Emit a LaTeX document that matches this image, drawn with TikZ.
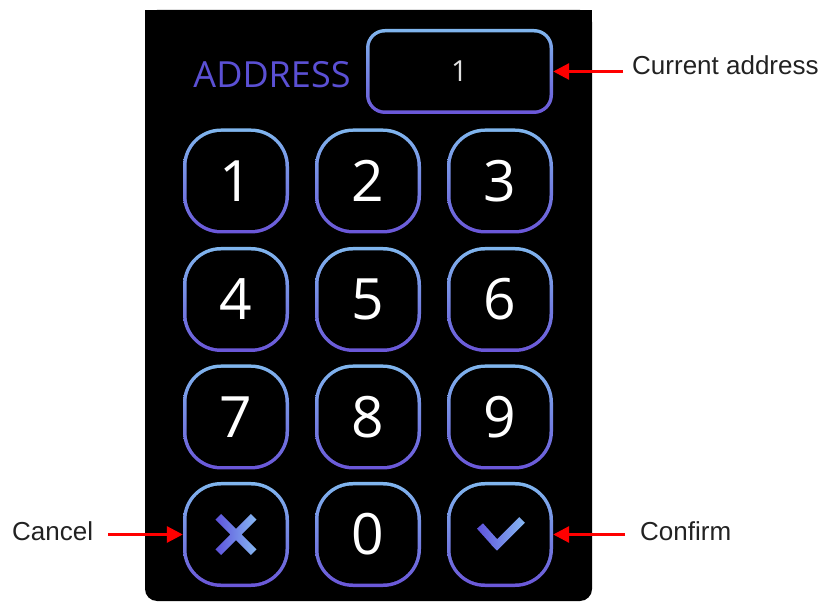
\documentclass[tikz,border=0pt]{standalone}
\usepackage{fontspec}
\setmainfont{Liberation Sans}
\newfontfamily\opensans{Open Sans}
\usetikzlibrary{arrows.meta,calc}
\definecolor{keytop}{HTML}{80B6EE}
\definecolor{keybot}{HTML}{6A56D8}
\definecolor{addrtext}{HTML}{5B50D4}
\definecolor{lbltext}{HTML}{222222}
\definecolor{iconA}{HTML}{5E52DC}
\definecolor{iconB}{HTML}{86B8F2}
\definecolor{arrowred}{HTML}{FF0000}
\begin{document}
\begin{tikzpicture}[x=1pt,y=1pt,
  keybox/.style={rectangle, rounded corners=38pt, minimum width=106pt, minimum height=105pt,
    inner sep=0pt, top color=keytop, bottom color=keybot,
    path picture={\fill[black, rounded corners=34.5pt]
      ([xshift=3.5pt,yshift=3.5pt]path picture bounding box.south west) rectangle
      ([xshift=-3.5pt,yshift=-3.5pt]path picture bounding box.north east);},
    text=white, font=\opensans\fontsize{57}{60}\selectfont},
  addrbox/.style={rectangle, rounded corners=19pt, minimum width=187pt, minimum height=85pt,
    inner sep=0pt, top color=keytop, bottom color=keybot,
    path picture={\fill[black, rounded corners=15.5pt]
      ([xshift=3.5pt,yshift=3.5pt]path picture bounding box.south west) rectangle
      ([xshift=-3.5pt,yshift=-3.5pt]path picture bounding box.north east);},
    text=black!12, font=\opensans\fontsize{29}{32}\selectfont},
  lbl/.style={inner sep=0pt, text=lbltext, font=\fontsize{26}{30}\selectfont},
  redarrow/.style={draw=arrowred, line width=3pt, -{Triangle[length=16pt,width=16pt]}},
  iconshade/.style={left color=iconA, right color=iconB}
]
\useasboundingbox (0,0) rectangle (829,602);
\fill[white] (0,0) rectangle (829,602);
% panel
\fill[black, rounded corners=12pt] (145,1) rectangle (592,592);
\fill[black] (145,300) rectangle (592,592);

% address row
\node[inner sep=0pt, text=addrtext, font=\opensans\fontsize{36}{40}\selectfont] (addrlbl) at (272,527) {ADDRESS};
\node[addrbox] (addr) at (459.5,530.5) {1};

% keys
\node[keybox] (k1) at (236,421) {1};
\node[keybox] (k2) at (368,421) {2};
\node[keybox] (k3) at (500,421) {3};
\node[keybox] (k4) at (236,302.5) {4};
\node[keybox] (k5) at (368,302.5) {5};
\node[keybox] (k6) at (500,302.5) {6};
\node[keybox] (k7) at (236,185) {7};
\node[keybox] (k8) at (368,185) {8};
\node[keybox] (k9) at (500,185) {9};
\node[keybox] (kX) at (236,67.5) {};
\node[keybox] (k0) at (368,67.5) {0};
\node[keybox] (kOK) at (500,67.5) {};

% cross icon
\begin{scope}[shift={(kX.center)}]
\shade[iconshade]
  (14.87,20.53) -- (20.53,14.87) -- (-14.87,-20.53) -- (-20.53,-14.87) -- cycle
  (20.53,-14.87) -- (14.87,-20.53) -- (-20.53,14.87) -- (-14.87,20.53) -- cycle;
\end{scope}
% check icon
\begin{scope}[shift={(kOK.center)}]
\shade[iconshade]
  (-17.02,11.17) -- (-22.98,5.83) -- (-4.65,-14.66) -- (1.31,-9.32) -- cycle
  (-8.66,-10.5) -- (-3,-16.16) -- (24.83,11.67) -- (19.17,17.33) -- cycle;
\end{scope}

% labels
\node[lbl, anchor=base west] (lcur) at (632,527) {Current address};
\node[lbl, anchor=base west] (lcan) at (12,62) {Cancel};
\node[lbl, anchor=base west] (lcon) at (640,62) {Confirm};

% arrows
\draw[redarrow] ($(lcur.west |- addr.east)+(-9,0)$) -- (addr.east);
\draw[redarrow] ($(lcan.east |- kX.west)+(15,0)$) -- (kX.west);
\draw[redarrow] ($(lcon.west |- kOK.east)+(-15,0)$) -- (kOK.east);
\end{tikzpicture}
\end{document}
